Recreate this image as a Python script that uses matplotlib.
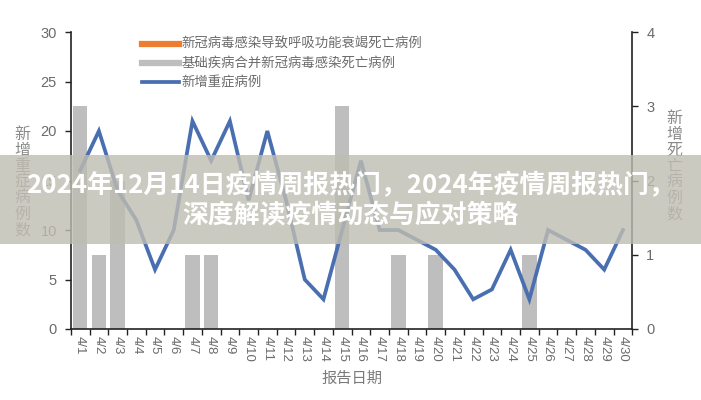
import numpy as np
import matplotlib
matplotlib.use('Agg')
import matplotlib.pyplot as plt
from matplotlib.lines import Line2D
from matplotlib.patches import Rectangle

plt.rcParams['font.family'] = ['Noto Sans CJK SC', 'DejaVu Sans']

dates = [f"4/{d}" for d in range(1, 31)]
severe = [16, 20, 14, 11, 6, 10, 21, 17, 21, 13, 20, 13, 5, 3, 10,
          17, 10, 10, 9, 8, 6, 3, 4, 8, 3, 10, 9, 8, 6, 10]
resp_deaths = [0] * 30
comorb_deaths = [3, 1, 2, 0, 0, 0, 1, 1, 0, 0, 0, 0, 0, 0, 3,
                 0, 0, 1, 0, 1, 0, 0, 0, 0, 1, 0, 0, 0, 0, 0]

legend_labels = ['新冠病毒感染导致呼吸功能衰竭死亡病例',
                 '基础疾病合并新冠病毒感染死亡病例',
                 '新增重症病例']
title_lines = ['2024年12月14日疫情周报热门，2024年疫情周报热门，',
               '深度解读疫情动态与应对策略']

orange = '#ED7D31'
grey_bar = '#BEBEBE'
blue = '#4A6FB0'
txt = '#6b6b6b'
axc = '#222222'

fig = plt.figure(figsize=(7.01, 4.0), dpi=100)
ax = fig.add_axes([0.101, 0.1775, 0.801, 0.7425])
ax2 = ax.twinx()

x = np.arange(len(dates))
ax2.bar(x, resp_deaths, width=0.78, color=orange)
ax2.bar(x, comorb_deaths, width=0.78, bottom=resp_deaths, color=grey_bar)
ax.plot(x, severe, color=blue, lw=2.7, solid_joinstyle='miter')

ax.set_zorder(2)
ax.patch.set_visible(False)

ax.set_xlim(-0.5, len(dates) - 0.5)
ax.set_ylim(0, 30)
ax.set_yticks(np.arange(0, 31, 5))
ax2.set_ylim(0, 4)
ax2.set_yticks(np.arange(0, 5, 1))

ax.set_xticks(x)
ax.set_xticklabels(dates, rotation=-90, fontsize=9.5, color=txt, family='Liberation Sans')
ax.set_xticks(np.arange(-0.5, len(dates), 1), minor=True)
ax.tick_params(axis='x', which='major', length=0, pad=5)
ax.tick_params(axis='x', which='minor', length=4, width=1, color=axc, direction='out')
ax.tick_params(axis='y', length=4, width=1, color=axc, labelsize=10.5, labelcolor=txt, pad=6)
ax2.tick_params(axis='y', length=4, width=1, color=axc, labelsize=10.5, labelcolor=txt, pad=6)
for lab in ax.get_yticklabels() + ax2.get_yticklabels():
    lab.set_family('Liberation Sans')

for a in (ax, ax2):
    a.spines['top'].set_visible(False)
ax.spines['right'].set_visible(False)
ax2.spines['left'].set_visible(False)
ax2.spines['bottom'].set_visible(False)
for sp in (ax.spines['left'], ax.spines['bottom'], ax2.spines['right']):
    sp.set_color(axc)
    sp.set_linewidth(1.2)

fig.text(0.032, 0.545, '\n'.join('新增重症病例数'), ha='center', va='center',
         fontsize=11.5, color='#8a8a8a', linespacing=0.92, fontweight='light')
fig.text(0.962, 0.585, '\n'.join('新增死亡病例数'), ha='center', va='center',
         fontsize=11.5, color='#8a8a8a', linespacing=0.92, fontweight='light')
fig.text(0.502, 0.055, '报告日期', ha='center', va='center',
         fontsize=11, color='#7a7a7a')

handles = [Line2D([], [], color=orange, lw=4.5),
           Line2D([], [], color=grey_bar, lw=4.5),
           Line2D([], [], color=blue, lw=2.7)]
ax.legend(handles, legend_labels, loc='upper left', bbox_to_anchor=(0.185, 0.937),
          bbox_transform=fig.transFigure, frameon=False, fontsize=9.6,
          handlelength=2.8, handletextpad=0.15, labelspacing=0.38,
          labelcolor=txt)

# banner overlay
fig.patches.append(Rectangle((0, 0.39), 1, 0.2225, transform=fig.transFigure,
                             facecolor='#bfbdb2', alpha=0.8, edgecolor='none', zorder=10))
fig.text(0.5, 0.537, title_lines[0], ha='center', va='center', fontsize=18.6,
         fontweight='bold', color='white', zorder=11)
fig.text(0.5, 0.46, title_lines[1], ha='center', va='center', fontsize=18.6,
         fontweight='bold', color='white', zorder=11)

fig.savefig('out.png', dpi=100)
